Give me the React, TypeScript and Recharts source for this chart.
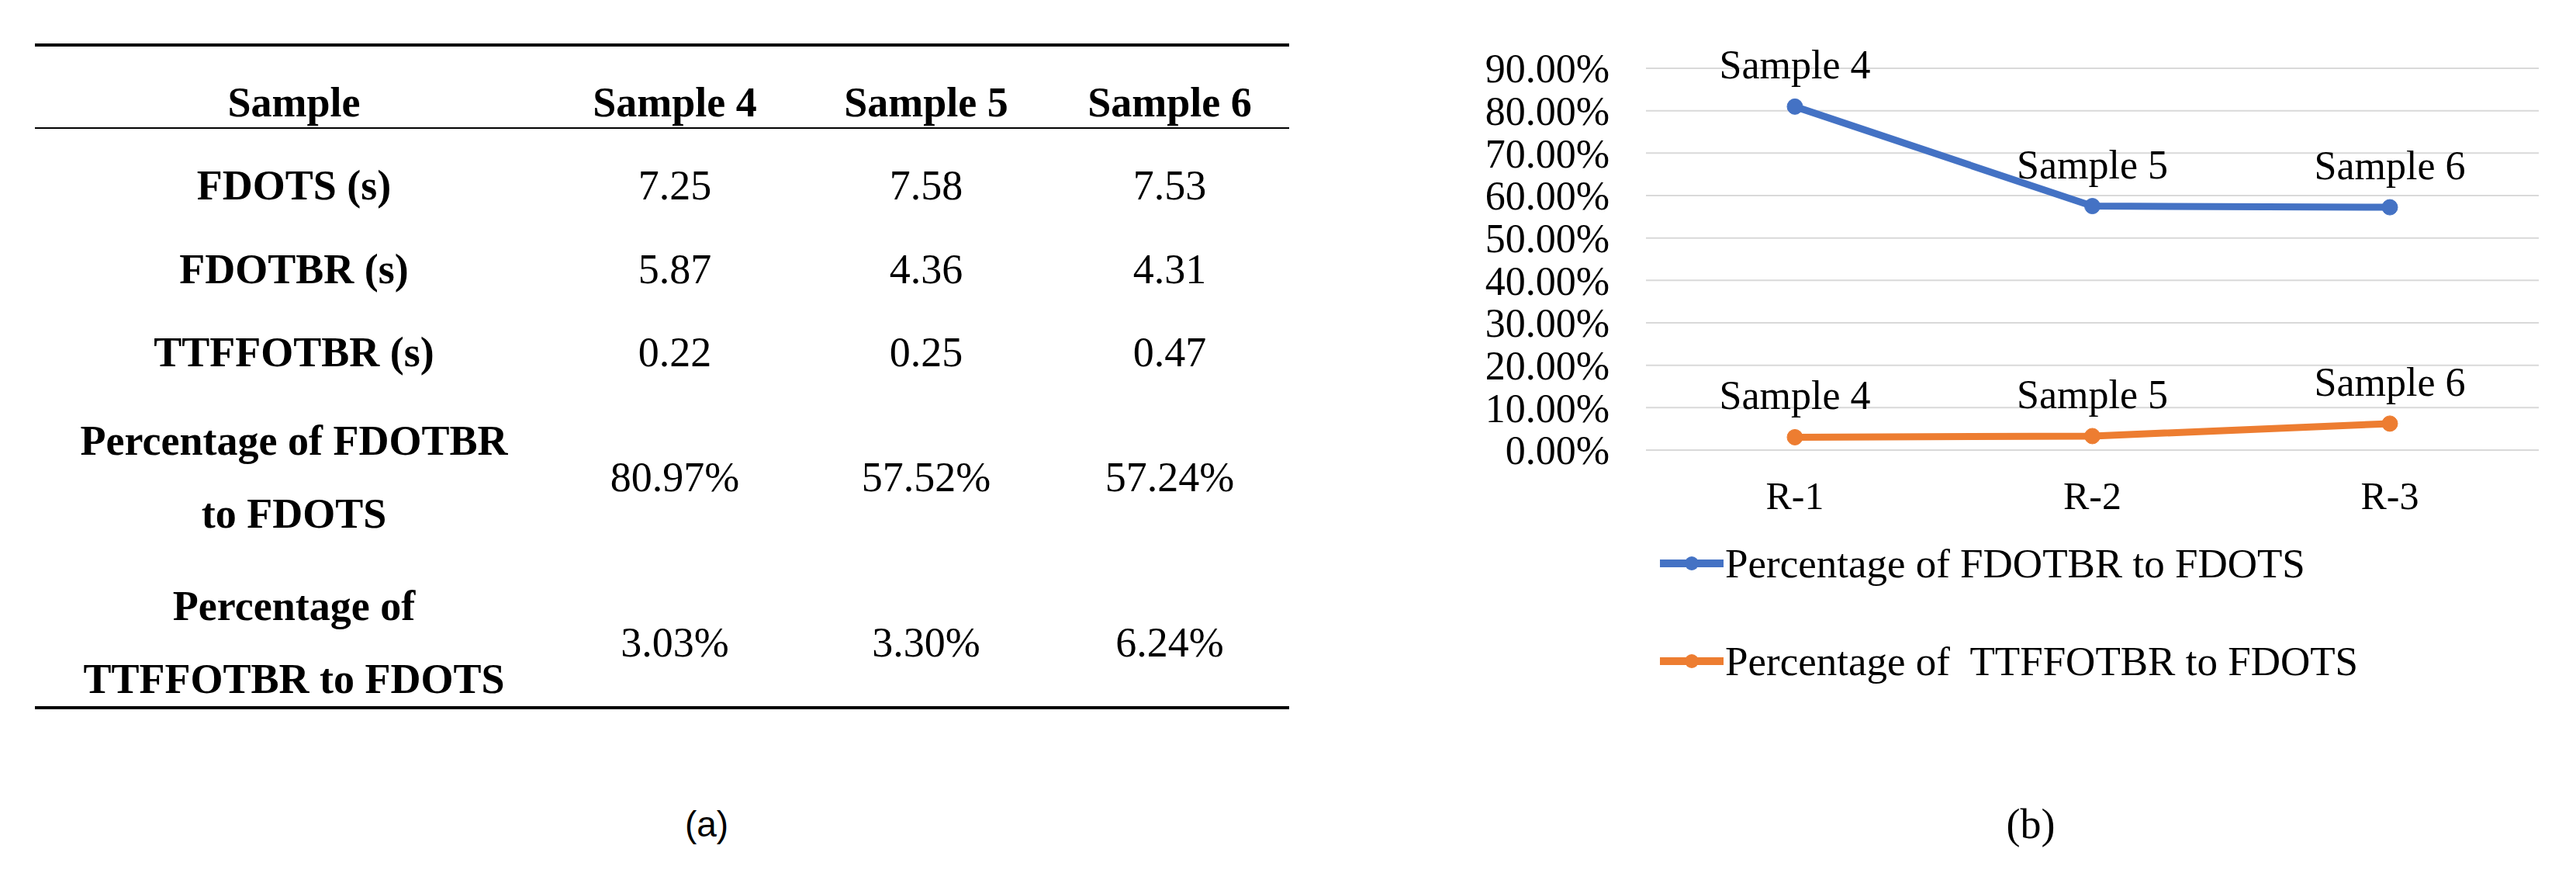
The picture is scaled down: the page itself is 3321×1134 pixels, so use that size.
import React from 'react';
import { LineChart, Line, XAxis, YAxis, CartesianGrid, Legend, LabelList } from 'recharts';

// chart (b) data
const runs = ['R-1', 'R-2', 'R-3'];
const samples = ['Sample 4', 'Sample 5', 'Sample 6'];
const fdotbrShare = [80.97, 57.52, 57.24];
const ttffotbrShare = [3.03, 3.3, 6.24];
const yTicks = [0, 10, 20, 30, 40, 50, 60, 70, 80, 90];

// table (a) data
const fdots = ['7.25', '7.58', '7.53'];
const fdotbr = ['5.87', '4.36', '4.31'];
const ttffotbr = ['0.22', '0.25', '0.47'];
const rowLabels = [
  ['FDOTS (s)'],
  ['FDOTBR (s)'],
  ['TTFFOTBR (s)'],
  ['Percentage of FDOTBR', 'to FDOTS'],
  ['Percentage of', 'TTFFOTBR to FDOTS'],
];

const BLUE = '#4472C4';
const ORANGE = '#ED7D31';
const GRID = '#D9D9D9';
const SERIF = '"Liberation Serif", "Times New Roman", serif';

const pct = (v: number) => `${v.toFixed(2)}%`;

const chartData = runs.map((run, i) => ({
  run,
  sample: samples[i],
  fdotbr: fdotbrShare[i],
  ttffotbr: ttffotbrShare[i],
}));

const tableValues = [fdots, fdotbr, ttffotbr, fdotbrShare.map(pct), ttffotbrShare.map(pct)];

const legendItems = [
  { name: 'Percentage of FDOTBR to FDOTS', color: BLUE },
  { name: 'Percentage of  TTFFOTBR to FDOTS', color: ORANGE },
];

// layout of the table
const TABLE_LEFT = 45;
const TABLE_WIDTH = 1617;
const colCenters = [379, 870, 1194, 1508];
const rowCenters = [239, 347, 454, 615, 828];

const Cell = ({ x, y, bold, children }: any) => (
  <div
    style={{
      position: 'absolute',
      left: x,
      top: y,
      transform: 'translate(-50%, -50%)',
      fontFamily: SERIF,
      fontSize: 54,
      fontWeight: bold ? 700 : 400,
      lineHeight: '94px',
      textAlign: 'center',
      whiteSpace: 'nowrap',
      color: '#000',
    }}
  >
    {children}
  </div>
);

const DataTable = () => (
  <>
    <div style={{ position: 'absolute', left: TABLE_LEFT, top: 56, width: TABLE_WIDTH, height: 4, background: '#000' }} />
    <div style={{ position: 'absolute', left: TABLE_LEFT, top: 164, width: TABLE_WIDTH, height: 2, background: '#000' }} />
    <div style={{ position: 'absolute', left: TABLE_LEFT, top: 910, width: TABLE_WIDTH, height: 4, background: '#000' }} />

    <Cell x={colCenters[0]} y={132} bold>Sample</Cell>
    {samples.map((s, i) => (
      <Cell key={s} x={colCenters[i + 1]} y={132} bold>{s}</Cell>
    ))}

    {rowLabels.map((lines, r) => (
      <React.Fragment key={r}>
        <Cell x={colCenters[0]} y={rowCenters[r]} bold>
          {lines.map((l, k) => (
            <div key={k}>{l}</div>
          ))}
        </Cell>
        {tableValues[r].map((v, c) => (
          <Cell key={c} x={colCenters[c + 1]} y={rowCenters[r]}>{v}</Cell>
        ))}
      </React.Fragment>
    ))}

    <div
      style={{
        position: 'absolute',
        left: 911,
        top: 1062,
        transform: 'translate(-50%, -50%)',
        fontFamily: '"Liberation Sans", "Open Sans", sans-serif',
        fontSize: 46,
      }}
    >
      (a)
    </div>
  </>
);

const renderLegend = () => (
  <div style={{ position: 'relative', height: 300, width: 1421 }}>
    {legendItems.map((item, i) => (
      <div
        key={item.name}
        style={{
          position: 'absolute',
          left: 240,
          top: (i === 0 ? 46 : 172) - 40,
          height: 80,
          display: 'flex',
          alignItems: 'center',
        }}
      >
        <svg width={82} height={24} style={{ marginRight: 2 }}>
          <line x1={0} y1={12} x2={82} y2={12} stroke={item.color} strokeWidth={10} />
          <circle cx={41} cy={12} r={9} fill={item.color} />
        </svg>
        <span style={{ fontFamily: SERIF, fontSize: 53, color: '#000', whiteSpace: 'pre' }}>{item.name}</span>
      </div>
    ))}
  </div>
);

const App = () => (
  <div style={{ position: 'absolute', left: 0, top: 0, width: 3321, height: 1134, background: '#fff' }}>
    <DataTable />

    <div style={{ position: 'absolute', left: 1900, top: 0 }}>
      <LineChart width={1421} height={1134} data={chartData} margin={{ top: 88, right: 48, left: 0, bottom: 154 }}>
        <CartesianGrid vertical={false} stroke={GRID} strokeWidth={2} />
        <XAxis
          dataKey="run"
          height={100}
          padding={{ left: 192, right: 192 }}
          axisLine={false}
          tickLine={false}
          tickSize={0}
          tickMargin={40}
          interval={0}
          tick={{ fill: '#000', fontSize: 50, fontFamily: SERIF }}
        />
        <YAxis
          width={222}
          domain={[0, 90]}
          ticks={yTicks}
          interval={0}
          tickFormatter={pct}
          axisLine={false}
          tickLine={false}
          tickSize={0}
          tickMargin={47}
          tick={{ fill: '#000', fontSize: 52, fontFamily: SERIF }}
        />
        <Legend verticalAlign="bottom" content={renderLegend} wrapperStyle={{ left: 0, width: 1421 }} />
        <Line
          dataKey="fdotbr"
          name={legendItems[0].name}
          stroke={BLUE}
          strokeWidth={9}
          dot={{ r: 10, fill: BLUE, stroke: BLUE, strokeWidth: 1 }}
          isAnimationActive={false}
        >
          <LabelList dataKey="sample" position="top" offset={36} fill="#000" fontSize={52} fontFamily={SERIF} />
        </Line>
        <Line
          dataKey="ttffotbr"
          name={legendItems[1].name}
          stroke={ORANGE}
          strokeWidth={9}
          dot={{ r: 10, fill: ORANGE, stroke: ORANGE, strokeWidth: 1 }}
          isAnimationActive={false}
        >
          <LabelList dataKey="sample" position="top" offset={36} fill="#000" fontSize={52} fontFamily={SERIF} />
        </Line>
      </LineChart>
    </div>

    <div
      style={{
        position: 'absolute',
        left: 2618,
        top: 1062,
        transform: 'translate(-50%, -50%)',
        fontFamily: SERIF,
        fontSize: 54,
      }}
    >
      (b)
    </div>
  </div>
);

export default App;
